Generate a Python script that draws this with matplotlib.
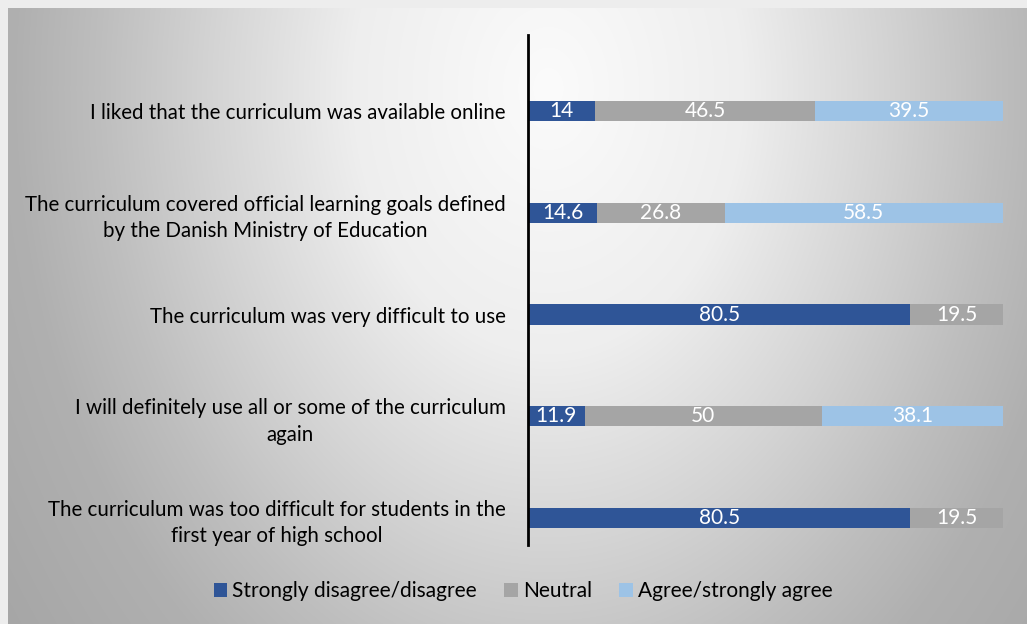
import numpy as np
import matplotlib
matplotlib.use("Agg")
import matplotlib.pyplot as plt
from matplotlib.patches import Patch

plt.rcParams["font.family"] = ["Lato", "DejaVu Sans"]

categories = [
    "I liked that the curriculum was available online",
    "The curriculum covered official learning goals defined\nby the Danish Ministry of Education",
    "The curriculum was very difficult to use",
    "I will definitely use all or some of the curriculum\nagain",
    "The curriculum was too difficult for students in the\nfirst year of high school",
]
series_names = ["Strongly disagree/disagree", "Neutral", "Agree/strongly agree"]
disagree = [14, 14.6, 80.5, 11.9, 80.5]
neutral = [46.5, 26.8, 19.5, 50, 19.5]
agree = [39.5, 58.5, 0, 38.1, 0]
colors = ["#2F5597", "#A5A5A5", "#9DC3E6"]

W, H = 1027, 624
fig = plt.figure(figsize=(W / 100, H / 100), dpi=100, facecolor="#ededed")

# radial gray background
bg = fig.add_axes([8 / W, 0, 1 - 8 / W, 1 - 8 / H], zorder=0)
yy, xx = np.mgrid[0:H - 8, 0:W - 8]
t = np.sqrt(((xx - 540) / 560.0) ** 2 + ((yy - 80) / 760.0) ** 2)
shade = np.interp(t, [0, 0.35, 0.6, 0.8, 0.95, 1.2], [251, 238, 212, 190, 176, 166]) / 255.0
bg.imshow(np.dstack([shade, shade, shade]), aspect="auto", interpolation="bilinear")
bg.set_axis_off()

ax = fig.add_axes([528 / W, 1 - 545 / H, 475 / W, 510 / H], zorder=1)
ax.patch.set_alpha(0)
y = np.arange(len(categories))
left = np.zeros(len(categories))
for name, vals, col in zip(series_names, [disagree, neutral, agree], colors):
    vals = np.asarray(vals, dtype=float)
    ax.barh(y, vals, left=left, height=0.2, color=col, label=name)
    for yi, l, v in zip(y, left, vals):
        if v > 0:
            ax.text(l + v / 2, yi, f"{v:g}", ha="center", va="center",
                    color="white", fontsize=15)
    left += vals

ax.set_xlim(0, 100)
ax.set_ylim(4.265, -0.747)
ax.set_yticks(y)
ax.set_yticklabels(categories, fontsize=14.8, multialignment="center", linespacing=1.4)
ax.tick_params(axis="y", length=0, pad=16)
ax.set_xticks([])
for side in ("top", "right", "bottom"):
    ax.spines[side].set_visible(False)
ax.spines["left"].set_linewidth(2)
ax.spines["left"].set_color("black")

handles = [Patch(facecolor=c, edgecolor="none") for c in colors]
fig.legend(handles, series_names, loc="center", bbox_to_anchor=(523 / W, 1 - 591 / H),
           ncol=3, frameon=False, fontsize=15, handlelength=0.65, handleheight=0.65,
           handletextpad=0.25, columnspacing=1.3)

fig.savefig("out.png", dpi=100, facecolor=fig.get_facecolor())
